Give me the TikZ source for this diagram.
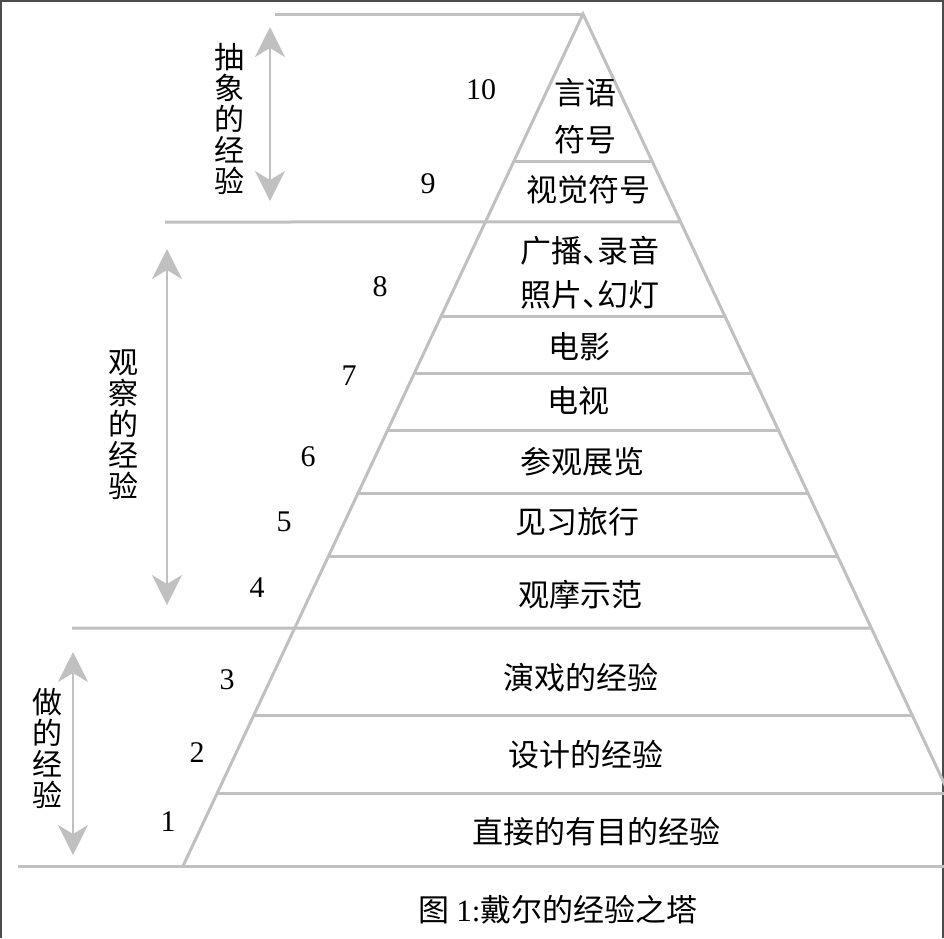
\documentclass[tikz,border=0pt]{standalone}
\usepackage{fontspec}
\setmainfont{Liberation Serif}
\newfontfamily\cjk{Noto Sans CJK SC}
\usetikzlibrary{arrows.meta,calc}
\definecolor{towergray}{RGB}{192,192,192}
\tikzset{
  tower/.style={line width=3pt,draw=towergray},
  span/.style={line width=2.5pt,draw=towergray,
    {Stealth[length=30pt,width=30pt,inset=9pt]}-{Stealth[length=30pt,width=30pt,inset=9pt]}},
  level/.style={font=\fontsize{31}{34}\selectfont\cjk,align=center,inner sep=0pt},
  num/.style={font=\fontsize{30}{34}\selectfont,inner sep=0pt},
  side/.style={font=\fontsize{30}{31}\selectfont\cjk,align=center,inner sep=0pt},
}
\begin{document}
\begin{tikzpicture}[x=1pt,y=-1pt]
\useasboundingbox (0,0) rectangle (944,938);
\clip (0,0) rectangle (944,938);
\draw[line width=2pt,black!70] (1,938) -- (1,1) -- (943,1) -- (943,938);
% tower outline
\coordinate (apex) at (583,14);
\coordinate (bl) at (183,866);
\coordinate (br) at (983,866);
\draw[tower] (bl) -- (apex) -- (br);
\foreach \y in {161,317,373,430,493,556,715,793}{
  \pgfmathsetmacro\t{(\y-14)/852}
  \draw[tower] ($(apex)!\t!(bl)$) -- ($(apex)!\t!(br)$);
}
\draw[tower] (275,14) -- (apex);
\draw[tower] (165,222) -- ($(apex)!{0.2441}!(br)$);
\draw[tower] (72,628) -- ($(apex)!{0.7207}!(br)$);
\draw[tower] (18,866) -- (br);
% levels
\node[level] (l10) at (585,116) {言语\\[13pt]符号};
\node[level] (l9) at (588,190) {视觉符号};
\node[level] (l8) at (590,273) {广播\makebox[.5em][l]{、}录音\\[10pt]照片\makebox[.5em][l]{、}幻灯};
\node[level] (l7) at (579,347) {电影};
\node[level] (l6b) at (578,401) {电视};
\node[level] (l6) at (582,462) {参观展览};
\node[level] (l5) at (577,522) {见习旅行};
\node[level] (l4) at (580,595) {观摩示范};
\node[level] (l3) at (581,678) {演戏的经验};
\node[level] (l2) at (586,755) {设计的经验};
\node[level] (l1) at (596,832) {直接的有目的经验};
% numbers
\node[num] (n10) at (481,90) {10};
\node[num] (n9) at (428,184) {9};
\node[num] (n8) at (380,287) {8};
\node[num] (n7) at (349,376) {7};
\node[num] (n6) at (308,457) {6};
\node[num] (n5) at (284,522) {5};
\node[num] (n4) at (257,588) {4};
\node[num] (n3) at (227,680) {3};
\node[num] (n2) at (197,753) {2};
\node[num] (n1) at (168,822) {1};
% kinds of experience
\node[side] (abs) at (229,119) {抽\\象\\的\\经\\验};
\coordinate (abs top) at (270,27);
\coordinate (abs bot) at (270,201);
\draw[span] (abs top) -- (abs bot);
\node[side] (obs) at (123,425) {观\\察\\的\\经\\验};
\coordinate (obs top) at (167,249);
\coordinate (obs bot) at (167,605);
\draw[span] (obs top) -- (obs bot);
\node[side] (do) at (47,748) {做\\的\\经\\验};
\coordinate (do top) at (73,652);
\coordinate (do bot) at (73,855);
\draw[span] (do top) -- (do bot);
% caption
\node[level] (cap) at (558,910) {图 {\rmfamily 1:}戴尔的经验之塔};
\end{tikzpicture}
\end{document}
